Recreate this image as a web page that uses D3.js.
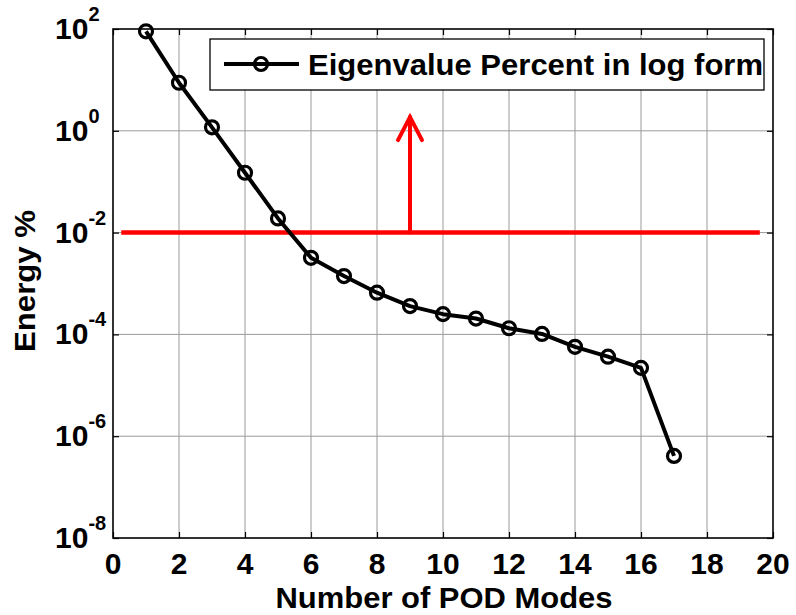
<!DOCTYPE html>
<html>
<head>
<meta charset="utf-8">
<script src="https://cdn.jsdelivr.net/npm/d3@7"></script>
<style>
  html, body { margin: 0; padding: 0; background: #fff; }
  svg { display: block; font-family: "Liberation Sans", Arial, sans-serif; font-weight: bold; }
</style>
</head>
<body>
<svg id="chart" width="796" height="615"></svg>
<script>
// POD mode index and eigenvalue energy share (%)
const modes = [1, 2, 3, 4, 5, 6, 7, 8, 9, 10, 11, 12, 13, 14, 15, 16, 17];
const energyPercent = [90, 8.8, 1.17, 0.15, 0.019, 0.0032, 0.0014, 6.6e-4, 3.6e-4,
                       2.5e-4, 2.05e-4, 1.32e-4, 1.02e-4, 5.7e-5, 3.65e-5, 2.2e-5, 4.1e-7];
const xTicks = [0, 2, 4, 6, 8, 10, 12, 14, 16, 18, 20];
const yTickExponents = [-8, -6, -4, -2, 0, 2];
// energy threshold and the mode where the arrow is drawn
const threshold = 1e-2;
const thresholdSpan = [0.25, 19.6];
const arrowMode = 9;
const arrowTop = 1.86;
const legendLabel = "Eigenvalue Percent in log form";

const svg = d3.select("#chart");
const L = 113, R = 773, T = 29, B = 538;

const x = d3.scaleLinear().domain([0, 20]).range([L, R]);
const y = d3.scaleLog().domain([1e-8, 1e2]).range([B, T]);
const yTicks = yTickExponents.map(e => Math.pow(10, e));

// grid
const grid = svg.append("g").attr("stroke", "#9a9a9a").attr("stroke-width", 1);
grid.selectAll("line.gx").data(xTicks.slice(1, -1)).join("line")
  .attr("x1", d => x(d)).attr("x2", d => x(d)).attr("y1", T).attr("y2", B);
grid.selectAll("line.gy").data(yTicks.slice(1, -1)).join("line")
  .attr("x1", L).attr("x2", R).attr("y1", d => y(d)).attr("y2", d => y(d));

// inward ticks on all four sides
const tickLen = 6;
svg.append("g").attr("transform", `translate(0,${B})`)
  .call(d3.axisBottom(x).tickValues(xTicks).tickSize(-tickLen).tickFormat(""))
  .call(g => g.select(".domain").remove());
svg.append("g").attr("transform", `translate(0,${T})`)
  .call(d3.axisTop(x).tickValues(xTicks).tickSize(-tickLen).tickFormat(""))
  .call(g => g.select(".domain").remove());
svg.append("g").attr("transform", `translate(${L},0)`)
  .call(d3.axisLeft(y).tickValues(yTicks).tickSize(-tickLen).tickFormat(""))
  .call(g => g.select(".domain").remove());
svg.append("g").attr("transform", `translate(${R},0)`)
  .call(d3.axisRight(y).tickValues(yTicks).tickSize(-tickLen).tickFormat(""))
  .call(g => g.select(".domain").remove());
svg.selectAll(".tick line").attr("stroke", "#000").attr("stroke-width", 1.2);

// axes box
svg.append("rect").attr("x", L).attr("y", T).attr("width", R - L).attr("height", B - T)
  .attr("fill", "none").attr("stroke", "#000").attr("stroke-width", 1.6);

// x tick labels
svg.append("g").selectAll("text").data(xTicks).join("text")
  .attr("x", d => x(d)).attr("y", B + 36)
  .attr("text-anchor", "middle").attr("font-size", 30).attr("fill", "#000")
  .text(d => d);

// y tick labels with superscript exponents
const yl = svg.append("g").selectAll("text").data(yTickExponents).join("text")
  .attr("x", 55).attr("y", d => y(Math.pow(10, d)) + 10)
  .attr("font-size", 30).attr("fill", "#000");
yl.append("tspan").text("10");
yl.append("tspan").attr("dy", -18).attr("font-size", 20).text(d => d);

// axis titles
svg.append("text").attr("x", (L + R) / 2 + 1).attr("y", 608)
  .attr("text-anchor", "middle").attr("font-size", 29).attr("fill", "#000")
  .attr("textLength", 337).attr("lengthAdjust", "spacingAndGlyphs")
  .text("Number of POD Modes");
svg.append("text").attr("transform", "translate(35,281) rotate(-90)")
  .attr("text-anchor", "middle").attr("font-size", 30).attr("fill", "#000")
  .attr("textLength", 142).attr("lengthAdjust", "spacingAndGlyphs")
  .text("Energy %");

// threshold line and arrow
const red = svg.append("g").attr("stroke", "#ff0000").attr("fill", "none")
  .attr("stroke-linecap", "round");
red.append("line")
  .attr("x1", x(thresholdSpan[0])).attr("x2", x(thresholdSpan[1]))
  .attr("y1", y(threshold)).attr("y2", y(threshold))
  .attr("stroke-width", 4.5).attr("stroke-linecap", "butt");
red.append("line")
  .attr("x1", x(arrowMode)).attr("x2", x(arrowMode))
  .attr("y1", y(threshold)).attr("y2", y(arrowTop))
  .attr("stroke-width", 4);
red.append("polyline")
  .attr("points", [[x(arrowMode) - 12, y(arrowTop) + 23], [x(arrowMode), y(arrowTop)],
                   [x(arrowMode) + 12, y(arrowTop) + 23]].map(p => p.join(",")).join(" "))
  .attr("stroke-width", 4).attr("stroke-linejoin", "miter");

// data series
const pts = modes.map((m, i) => [m, energyPercent[i]]);
svg.append("path").datum(pts)
  .attr("d", d3.line().x(d => x(d[0])).y(d => y(d[1])))
  .attr("fill", "none").attr("stroke", "#000").attr("stroke-width", 4)
  .attr("stroke-linejoin", "round");
svg.append("g").selectAll("circle").data(pts).join("circle")
  .attr("cx", d => x(d[0])).attr("cy", d => y(d[1])).attr("r", 6.5)
  .attr("fill", "none").attr("stroke", "#000").attr("stroke-width", 3.2);

// legend
const lg = svg.append("g");
lg.append("rect").attr("x", 210).attr("y", 39).attr("width", 554).attr("height", 51)
  .attr("fill", "#fff").attr("stroke", "#000").attr("stroke-width", 1.3);
lg.append("line").attr("x1", 224).attr("x2", 299).attr("y1", 64).attr("y2", 64)
  .attr("stroke", "#000").attr("stroke-width", 4);
lg.append("circle").attr("cx", 261).attr("cy", 64).attr("r", 6.5)
  .attr("fill", "none").attr("stroke", "#000").attr("stroke-width", 3.2);
lg.append("text").attr("x", 308).attr("y", 75).attr("font-size", 30).attr("fill", "#000")
  .attr("textLength", 455).attr("lengthAdjust", "spacingAndGlyphs")
  .text(legendLabel);
</script>
</body>
</html>
